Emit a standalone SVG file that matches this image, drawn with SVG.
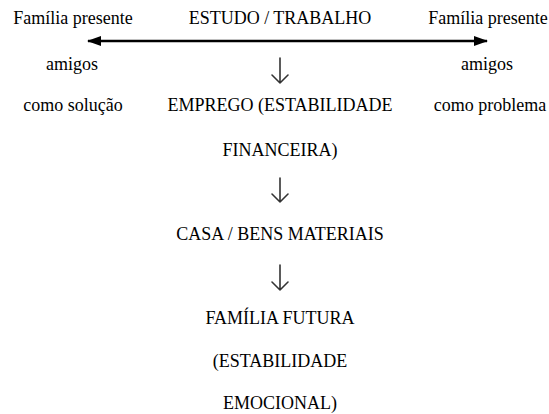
<svg xmlns="http://www.w3.org/2000/svg" width="549" height="414" viewBox="0 0 549 414">
<style>
text{font-size:18px;fill:#000;text-anchor:middle}
.down{fill:none;stroke:#333;stroke-width:1.6;stroke-linecap:round;stroke-linejoin:round}
.bi{stroke:#000;stroke-width:2.6;fill:none}
</style>
<defs>
<marker id="tri" viewBox="0 0 14 10" refX="13" refY="5" markerWidth="14" markerHeight="10" markerUnits="userSpaceOnUse" orient="auto-start-reverse">
<path d="M0,0 L14,5 L0,10 Z" fill="#000"/>
</marker>
</defs>
<rect width="549" height="414" fill="#fff"/>
<g id="connectors">
<line class="bi" x1="88" y1="41" x2="487" y2="41" marker-start="url(#tri)" marker-end="url(#tri)"/>
<path class="down" d="M280,58 V83 M272,75 L280,83 L288,75"/>
<path class="down" d="M280,178 V202 M272,194 L280,202 L288,194"/>
<path class="down" d="M280,265 V290 M272,282 L280,290 L288,282"/>
</g>
<g font-family="Liberation Serif, Times New Roman, serif">
<g id="left"><text x="73" y="24">Família presente</text><text x="72" y="70">amigos</text><text x="73" y="111">como solução</text></g>
<g id="right"><text x="488" y="24">Família presente</text><text x="487" y="70">amigos</text><text x="490" y="111">como problema</text></g>
<g id="estudo"><text x="280" y="24">ESTUDO / TRABALHO</text></g>
<g id="emprego"><text x="280" y="111">EMPREGO (ESTABILIDADE</text><text x="280" y="156">FINANCEIRA)</text></g>
<g id="casa"><text x="280" y="240">CASA / BENS MATERIAIS</text></g>
<g id="familia"><text x="280" y="324">FAMÍLIA FUTURA</text><text x="280" y="367">(ESTABILIDADE</text><text x="280" y="409">EMOCIONAL)</text></g>
</g>
</svg>
